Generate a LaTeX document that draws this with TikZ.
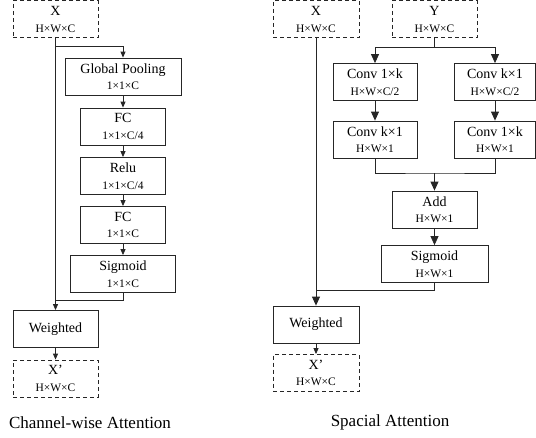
\documentclass[tikz,border=0pt]{standalone}
\usepackage{fontspec}
\setmainfont{Liberation Serif}
\usetikzlibrary{arrows.meta}

\newcommand{\dims}[1]{\\[1.5pt]{\fontsize{11.5}{15}\selectfont #1}}

\begin{document}
\begin{tikzpicture}[x=1pt,y=-1pt,
    blk/.style={draw=black!85, line width=0.8pt, minimum height=37pt, inner sep=0pt,
        align=center, font=\fontsize{14}{15}\selectfont},
    dblk/.style={blk, dash pattern=on 4pt off 3pt},
    wire/.style={line width=0.8pt, draw=black!85},
    arr/.style={wire, -{Triangle[length=6pt,width=5pt]}},
    bigarr/.style={wire, -{Triangle[length=9pt,width=8pt]}}]
    \useasboundingbox (0,0) rectangle (536,437);

    % Channel-wise attention (left)
    \node[dblk, minimum width=85pt] (xl) at (55.5,19.3) {X\dims{H×W×C}};
    \node[blk, minimum width=116pt] (gpool) at (123,76.5) {Global Pooling\dims{1×1×C}};
    \node[blk, minimum width=85pt] (fca) at (123,126.5) {FC\dims{1×1×C/4}};
    \node[blk, minimum width=85pt] (relu) at (123,176) {Relu\dims{1×1×C/4}};
    \node[blk, minimum width=85pt] (fcb) at (123,225) {FC\dims{1×1×C}};
    \node[blk, minimum width=105pt] (sigl) at (123,274) {Sigmoid\dims{1×1×C}};
    \node[blk, minimum width=85pt] (wl) at (55.5,329) {Weighted};
    \node[dblk, minimum width=85pt] (xol) at (55.5,378.5) {X’\dims{H×W×C}};

    \coordinate (splitl) at (55.5,46);
    \coordinate (mergel) at (55.5,300);
    \draw[arr] (xl.south) -- (wl.north);
    \draw[arr] (splitl) -| (gpool.north);
    \draw[arr] (gpool) -- (fca);
    \draw[arr] (fca) -- (relu);
    \draw[arr] (relu) -- (fcb);
    \draw[arr] (fcb) -- (sigl);
    \draw[wire] (sigl.south) |- (mergel);
    \draw[arr] (wl) -- (xol);

    % Spacial attention (right)
    \node[dblk, minimum width=86pt] (xr) at (316,19.3) {X\dims{H×W×C}};
    \node[dblk, minimum width=85pt] (yr) at (434.5,19.3) {Y\dims{H×W×C}};
    \node[blk, minimum width=84pt] (conva) at (375,82) {Conv 1×k\dims{H×W×C/2}};
    \node[blk, minimum width=81pt] (convb) at (495,82) {Conv k×1\dims{H×W×C/2}};
    \node[blk, minimum width=84pt] (convc) at (375,139.5) {Conv k×1\dims{H×W×1}};
    \node[blk, minimum width=81pt] (convd) at (495,139.5) {Conv 1×k\dims{H×W×1}};
    \node[blk, minimum width=85pt] (add) at (434.5,209.5) {Add\dims{H×W×1}};
    \node[blk, minimum width=107pt] (sigr) at (434.5,264) {Sigmoid\dims{H×W×1}};
    \node[blk, minimum width=86pt] (wr) at (316,324.5) {Weighted};
    \node[dblk, minimum width=86pt] (xor) at (316,373) {X’\dims{H×W×C}};

    \coordinate (splitr) at (434.5,47);
    \coordinate (joinr) at (434.5,173);
    \coordinate (merger) at (316,290);
    \draw[wire] (yr.south) -- (splitr);
    \draw[bigarr] (splitr) -| (conva.north);
    \draw[bigarr] (splitr) -| (convb.north);
    \draw[bigarr] (conva) -- (convc);
    \draw[bigarr] (convb) -- (convd);
    \draw[wire] (convc.south) |- (joinr) -| (convd.south);
    \draw[bigarr] (joinr) -- (add.north);
    \draw[bigarr] (add) -- (sigr);
    \draw[wire] (sigr.south) |- (merger);
    \draw[bigarr] (xr.south) -- (wr.north);
    \draw[arr] (wr) -- (xor);

    % Captions
    \node[font=\fontsize{17}{17}\selectfont] (capl) at (90,423) {Channel-wise Attention};
    \node[font=\fontsize{17}{17}\selectfont] (capr) at (390,422) {Spacial Attention};
\end{tikzpicture}
\end{document}
